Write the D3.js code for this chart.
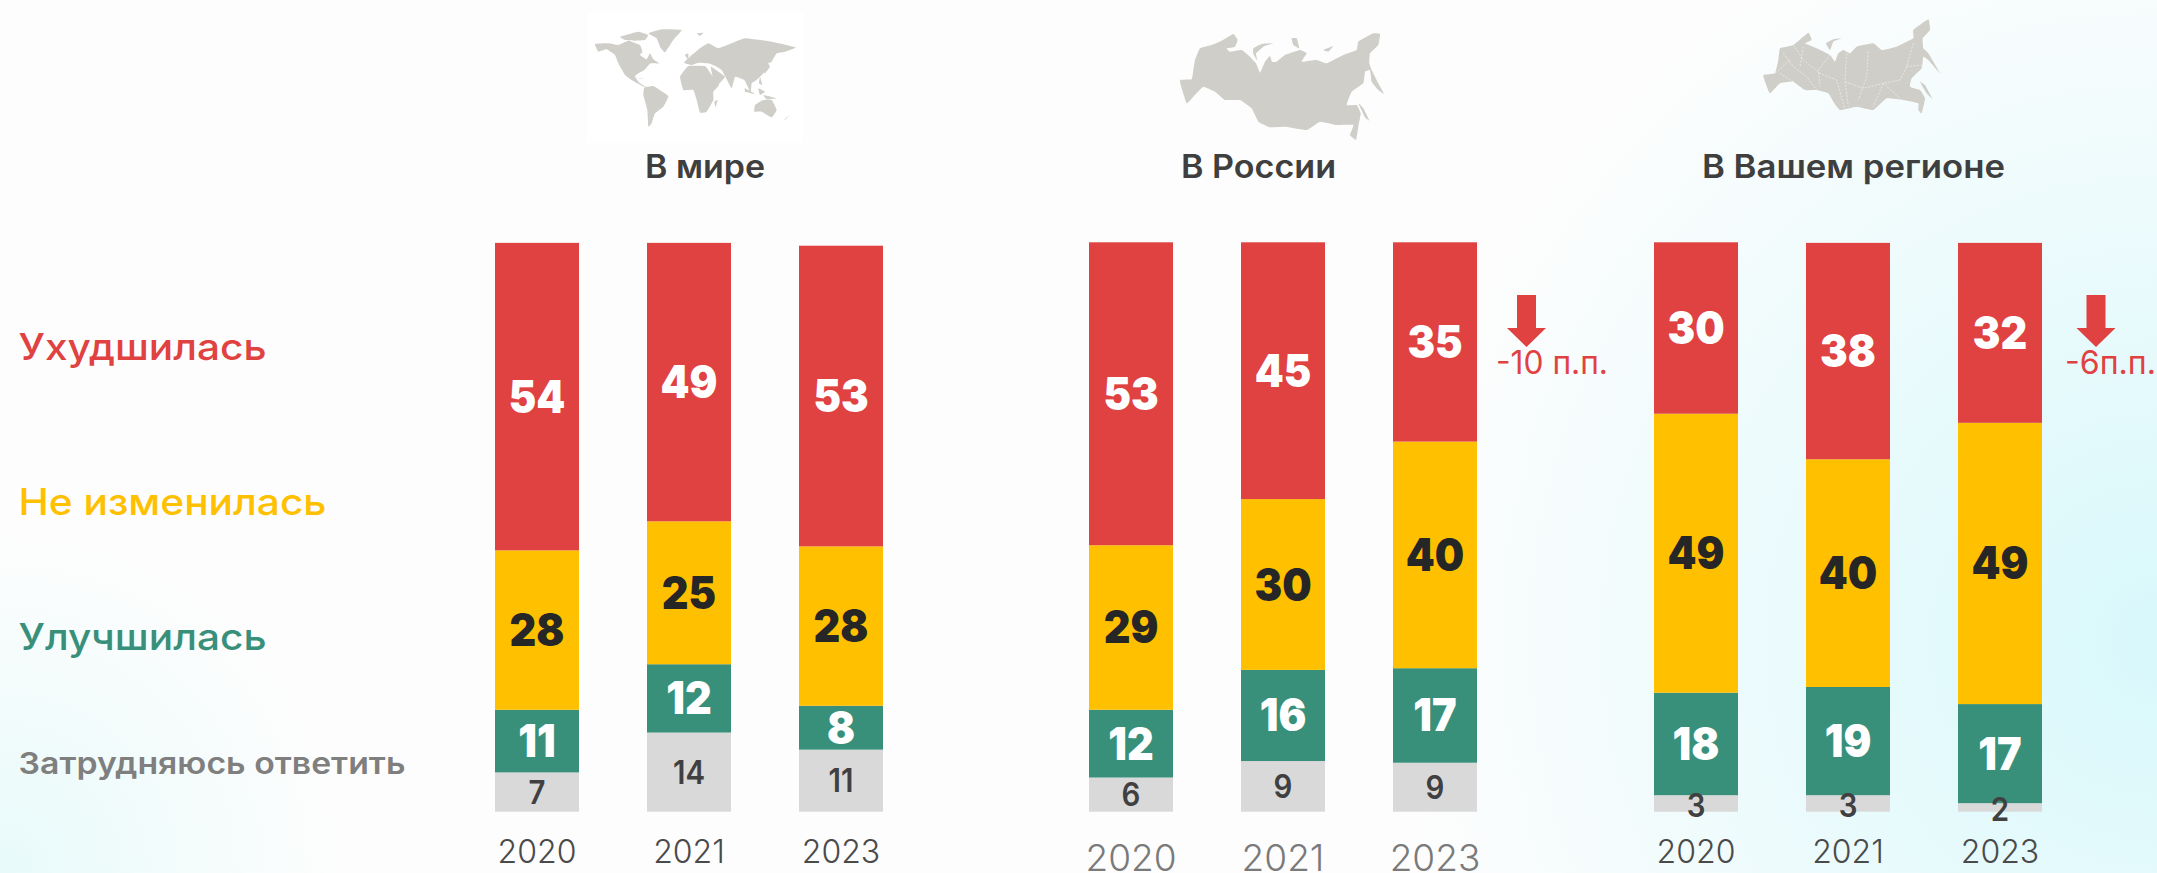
<!DOCTYPE html>
<html><head><meta charset="utf-8">
<script src="https://cdnjs.cloudflare.com/ajax/libs/d3/7.8.5/d3.min.js"></script>
<style>html,body{margin:0;padding:0;background:#fdfdfd;overflow:hidden}svg{display:block}text{font-family:Inter,"Noto Sans",sans-serif}</style>
</head><body><svg id="c" width="2157" height="873"></svg>
<script>
// ---------- data ----------
const years = ["2020","2021","2023"];
const panels = ["В мире","В России","В Вашем регионе"];
const seriesNames = ["Затрудняюсь ответить","Улучшилась","Не изменилась","Ухудшилась"];
const worldGray   = [6.9,13.9,10.9];
const worldGreen  = [11,12,7.7];
const worldYellow = [28,25.1,28];
const worldRed    = [54,48.9,52.8];
const russiaGray   = [6,8.9,8.6];
const russiaGreen  = [11.9,16,16.6];
const russiaYellow = [28.9,30,39.8];
const russiaRed    = [53.2,45.1,35];
const regionGray   = [2.9,2.9,1.5];
const regionGreen  = [18,19,17.4];
const regionYellow = [49,40,49.4];
const regionRed    = [30.1,38,31.6];
const panelValues = [
  [worldGray,worldGreen,worldYellow,worldRed],
  [russiaGray,russiaGreen,russiaYellow,russiaRed],
  [regionGray,regionGreen,regionYellow,regionRed]];
const changeLabels = [null,"-10 п.п.","-6п.п."];

// ---------- decorative map outlines (sketch units) ----------
const mapRussia = [
 [[30,180],[65,178],[70,150],[75,120],[90,85],[125,75],[155,62],[190,42],[203,60],[195,80],[170,85],[180,95],[215,90],[240,110],[258,130],[270,158],[285,125],[300,108],[306,125],[320,125],[345,105],[390,90],[410,100],[395,125],[440,120],[470,130],[520,105],[560,90],[565,65],[610,40],[630,42],[625,75],[600,100],[598,130],[605,150],[625,190],[642,222],[625,210],[605,185],[600,150],[585,155],[580,190],[545,215],[530,255],[560,255],[572,280],[565,320],[558,360],[540,345],[550,315],[500,315],[450,305],[410,330],[345,320],[300,322],[265,305],[245,265],[210,240],[165,240],[135,215],[100,200],[70,230],[50,250],[35,205]],
 [[250,85],[275,72],[310,70],[280,80],[258,100],[262,122],[250,102]],
 [[365,55],[380,55],[388,85],[370,75]],
 [[565,250],[580,265],[598,302],[585,292]],
 [[460,90],[490,78],[475,95]]];
const mapRegion = [
 [[40,195],[75,190],[85,150],[90,115],[130,105],[175,68],[185,90],[165,100],[200,115],[240,135],[255,155],[265,130],[280,120],[300,130],[320,110],[370,100],[395,120],[440,110],[490,85],[490,60],[535,28],[540,60],[518,85],[520,115],[535,130],[570,190],[535,150],[520,140],[515,175],[485,205],[480,230],[510,240],[525,265],[515,310],[505,300],[505,280],[460,270],[410,265],[370,300],[320,290],[270,300],[250,275],[235,250],[200,240],[165,240],[130,215],[90,220],[60,250],[45,215]],
 [[228,100],[250,88],[275,85],[250,95],[240,120]],
 [[510,215],[525,225],[548,268],[530,250]]];
const mapRegionBorders = [
 [[100,130],[130,170],[170,200],[200,240]],[[130,105],[160,150],[210,190],[260,210],[285,300]],
 [[240,135],[205,180],[210,230]],[[290,130],[285,210],[295,290]],[[355,125],[350,200],[325,270]],
 [[285,215],[340,235],[400,220],[450,265]],[[400,220],[370,290]],[[490,100],[470,170],[450,210],[400,220]],
 [[470,170],[515,165]],[[90,190],[130,215]],[[75,190],[120,150]],[[160,110],[150,170]]];
const mapWorld = [
 [[30,72],[70,70],[100,75],[130,62],[165,75],[172,95],[165,105],[185,118],[195,100],[205,118],[222,130],[197,130],[178,150],[160,160],[150,170],[165,190],[190,205],[170,197],[140,180],[120,165],[100,130],[90,105],[65,88],[40,95]],
 [[105,50],[160,35],[190,45],[180,60],[150,62],[120,60]],
 [[190,40],[230,28],[290,30],[265,60],[240,97],[225,80],[215,55]],
 [[178,203],[205,198],[250,228],[235,260],[210,280],[200,310],[190,320],[187,270],[175,225]],
 [[285,170],[310,138],[360,138],[380,165],[402,195],[385,215],[385,240],[365,275],[345,278],[335,240],[325,210],[295,210]],
 [[297,128],[315,110],[345,85],[370,70],[400,85],[440,70],[480,55],[560,65],[632,82],[600,95],[575,100],[560,125],[550,130],[535,160],[515,180],[500,190],[497,218],[478,180],[450,170],[440,205],[420,168],[410,150],[395,140],[370,130],[340,128],[320,135]],
 [[378,140],[420,170],[395,197],[382,165]],
 [[510,255],[535,240],[560,240],[575,270],[560,292],[530,275],[508,275]],
 [[388,245],[398,240],[392,262]],[[600,297],[615,285],[598,302]],[[300,105],[310,100],[310,120]],
 [[335,40],[355,38],[345,48]],[[545,125],[555,140],[540,160],[535,155]],[[480,205],[510,222],[480,215]],
 [[520,205],[540,215],[525,225]],[[535,225],[575,235],[545,238]],[[150,172],[180,178],[165,176]],[[525,170],[532,195],[522,190]]];

// ---------- layout ----------
const svg = d3.select("#c");
const W = 2157, H = 873;
const defs = svg.append("defs");
const grad = (id,cx,cy,r,col)=>{const g=defs.append("radialGradient").attr("id",id).attr("gradientUnits","userSpaceOnUse")
  .attr("cx",cx).attr("cy",cy).attr("r",r);
  g.append("stop").attr("offset",0).attr("stop-color",col).attr("stop-opacity",1);
  g.append("stop").attr("offset",1).attr("stop-color",col).attr("stop-opacity",0);};
grad("gr",2157,640,760,"#d8f8fb");
grad("gl",0,873,340,"#e8fafa");
defs.append("filter").attr("id","soft").append("feGaussianBlur").attr("stdDeviation",0.6);
svg.append("rect").attr("width",W).attr("height",H).attr("fill","#fdfdfd");
svg.append("rect").attr("width",W).attr("height",H).attr("fill","url(#gr)");
svg.append("rect").attr("width",W).attr("height",H).attr("fill","url(#gl)");

const y = d3.scaleLinear().domain([0,100]).range([811.7,242.3]);
const colors = d3.scaleOrdinal().domain(seriesNames).range(["#d9d9d9","#38907a","#ffc000","#e04141"]);
const labelFill = d3.scaleOrdinal().domain(seriesNames).range(["#404040","#ffffff","#262626","#ffffff"]);
const panelRanges = [[495,883],[1089,1477],[1654,2042]];
const panelTitle = [[705,120],[1258.5,155],[1853.5,303]];
const yearStyle = [{b:863,s:32,c:"#4a4a4a"},{b:871,s:37,c:"#7a7a7a"},{b:863,s:32,c:"#4a4a4a"}];
const fmt = d3.format(".0f");

panels.forEach((name,p)=>{
  const x = d3.scaleBand().domain(years).range(panelRanges[p]).paddingInner(68/152).paddingOuter(0);
  const rows = years.map((yr,i)=>{const r={year:yr};seriesNames.forEach((s,k)=>r[s]=panelValues[p][k][i]);return r;});
  const stacked = d3.stack().keys(seriesNames)(rows);
  const g = svg.append("g");
  const layer = g.selectAll("g.s").data(stacked).join("g").attr("fill",d=>colors(d.key));
  layer.selectAll("rect").data(d=>d).join("rect")
    .attr("x",d=>x(d.data.year)).attr("width",x.bandwidth())
    .attr("y",d=>y(d[1])).attr("height",d=>y(d[0])-y(d[1]));
  stacked.forEach(s=>{
    const gray = s.key===seriesNames[0];
    g.selectAll(null).data(s).join("text")
      .attr("transform",d=>{
        const cx=x(d.data.year)+x.bandwidth()/2;
        const cy=(y(d[0])+y(d[1]))/2+(gray?11.5+(d[1]-d[0]<4?2:0):16);
        return `translate(${cx},${cy}) scale(${gray?0.92:0.92},1)`;})
      .attr("text-anchor","middle")
      .attr("font-size",gray?32:45).attr("font-weight",gray?600:900)
      .attr("fill",labelFill(s.key))
      .text(d=>fmt(d[1]-d[0]));
  });
  const ys = yearStyle[p];
  const ax = svg.append("g").attr("transform",`translate(0,${ys.b})`).call(d3.axisBottom(x).tickSize(0).tickPadding(0));
  ax.select(".domain").remove();
  ax.selectAll("text").attr("y",0).attr("dy",0).attr("font-size",ys.s).attr("font-weight",300)
    .attr("font-family",'Inter,"Noto Sans",sans-serif').attr("fill",ys.c);
  svg.append("text").attr("x",panelTitle[p][0]).attr("y",178).attr("text-anchor","middle")
    .attr("font-size",32).attr("font-weight",600).attr("fill","#3f3f3f")
    .attr("textLength",panelTitle[p][1]).attr("lengthAdjust","spacingAndGlyphs").text(name);
});

// change arrows
const arrowCx = [null,1526.5,2096];
const changeX = [null,1496,2065];
const changeLen = [null,112,91];
changeLabels.forEach((t,i)=>{
  if(!t) return;
  const c = arrowCx[i];
  svg.append("path").attr("fill","#e04141")
    .attr("d",d3.line()([[c-9.5,295],[c+9.5,295],[c+9.5,328],[c+19.5,328],[c,347],[c-19.5,328],[c-9.5,328]])+"Z");
  svg.append("text").attr("x",changeX[i]).attr("y",374).attr("font-size",32).attr("font-weight",400).attr("fill","#e04141")
    .attr("textLength",changeLen[i]).attr("lengthAdjust","spacingAndGlyphs").text(t);
});

// legend
const legendBase = [774,650,515,360], legendLen = [387,248,308,248], legendSize=[30,37,37,37];
const legendFill = ["#7f7f7f","#38907a","#ffc000","#e04141"];
seriesNames.forEach((s,i)=>{
  svg.append("text").attr("x",18.5).attr("y",legendBase[i]).attr("font-size",legendSize[i]).attr("font-weight",i?500:600)
    .attr("fill",legendFill[i]).attr("textLength",legendLen[i]).attr("lengthAdjust","spacingAndGlyphs").text(s);
});

// maps
const polyline = d3.line().curve(d3.curveCardinalClosed.tension(0.7));
const openLine = d3.line();
function drawMap(polys,ox,oy,k,close){
  const sx=d3.scaleLinear().domain([0,1]).range([ox,ox+k]), sy=d3.scaleLinear().domain([0,1]).range([oy,oy+k]);
  return polys.map(pl=>(close?polyline:openLine)(pl.map(q=>[sx(q[0]),sy(q[1])]))).join("");
}
svg.append("rect").attr("x",587).attr("y",13).attr("width",216).attr("height",130).attr("fill","#fff");
const mapFill="#cfcec9";
svg.append("path").attr("fill",mapFill).attr("filter","url(#soft)").attr("d",drawMap(mapWorld,585,20,1/3,true));
svg.append("path").attr("fill",mapFill).attr("filter","url(#soft)").attr("d",drawMap(mapRussia,1170,20,1/3,true));
svg.append("path").attr("fill",mapFill).attr("filter","url(#soft)").attr("d",drawMap(mapRegion,1750,10,1/3,true));
svg.append("path").attr("fill","none").attr("stroke","#f1f3f1").attr("stroke-width",0.7).attr("stroke-dasharray","2 1.5").attr("d",drawMap(mapRegionBorders,1750,10,1/3,false));
</script></body></html>
